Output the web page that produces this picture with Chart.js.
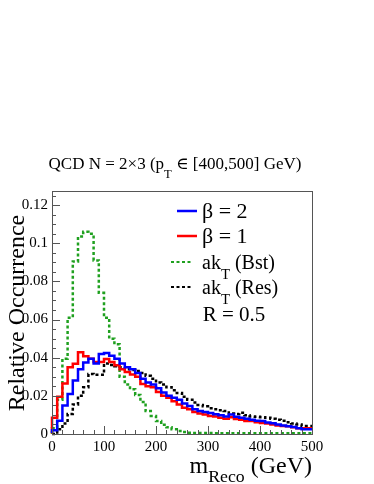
<!DOCTYPE html>
<html>
<head>
<meta charset="utf-8">
<script src="https://cdn.jsdelivr.net/npm/chart.js@4.4.1/dist/chart.umd.min.js"></script>
<style>
  html, body { margin: 0; padding: 0; background: #fff; }
</style>
</head>
<body>
<canvas id="c" width="374" height="484"></canvas>
<script>
// bin edges in GeV (10 GeV bins)
var binEdges = [0,10,20,30,40,50,60,70,80,90,100,110,120,130,140,150,160,170,180,190,200,
  210,220,230,240,250,260,270,280,290,300,310,320,330,340,350,360,370,380,390,400,
  410,420,430,440,450,460,470,480,490,500];

var beta2 = [0.0005,0.002,0.007,0.015,0.021,0.028,0.034,0.0375,0.0395,0.037,
  0.042,0.0425,0.041,0.0395,0.037,0.035,0.034,0.032,0.029,0.027,
  0.026,0.024,0.0217,0.020,0.019,0.018,0.016,0.0147,0.013,0.012,
  0.0115,0.011,0.0104,0.0098,0.0092,0.0102,0.009,0.0085,0.008,0.0075,
  0.007,0.0068,0.006,0.0057,0.005,0.0045,0.004,0.0037,0.003,0.0025];

var beta1 = [0.0003,0.0085,0.0195,0.0265,0.035,0.0368,0.0428,0.0408,0.0395,0.0378,
  0.0377,0.0393,0.0377,0.036,0.034,0.0325,0.0312,0.030,0.0262,0.025,
  0.0245,0.022,0.020,0.019,0.0172,0.0155,0.0138,0.013,0.0115,0.0108,
  0.0102,0.0095,0.0092,0.0085,0.008,0.0088,0.0078,0.0075,0.0068,0.0068,
  0.0062,0.0058,0.0055,0.005,0.0045,0.0042,0.004,0.0035,0.003,0.003];

var aktBst = [0,0.003,0.018,0.0395,0.061,0.0905,0.1035,0.106,0.105,0.091,
  0.074,0.061,0.050,0.047,0.030,0.026,0.0235,0.0205,0.0168,0.012,
  0.0095,0.0068,0.0048,0.0035,0.0025,0.0016,0.001,0.0007,0.0005,0.0005,
  0.0005,0.0005,0.0004,0.0004,0.0004,0.0004,0.0004,0.0004,0.0004,0.0004,
  0.0004,0.0004,0.0004,0.0004,0.0004,0.0004,0.0004,0.0004,0.0004,0.0004];

var aktRes = [0,0,0.0025,0.0055,0.0105,0.0155,0.020,0.0245,0.0315,0.031,
  0.031,0.037,0.0362,0.0355,0.035,0.034,0.0335,0.033,0.032,0.0305,
  0.029,0.027,0.026,0.0245,0.023,0.0215,0.0195,0.018,0.0165,0.0152,
  0.0145,0.0135,0.013,0.0125,0.012,0.0108,0.0105,0.0112,0.0098,0.0092,
  0.009,0.0088,0.0085,0.008,0.0075,0.007,0.0062,0.0055,0.005,0.0042];

var xTicks = [0,100,200,300,400,500];
var yTicks = [0,0.02,0.04,0.06,0.08,0.1,0.12];

var serif = "'Liberation Serif', 'DejaVu Serif', serif";

function histPoints(vals) {
  var pts = [];
  for (var i = 0; i < vals.length; i++) {
    pts.push({x: binEdges[i], y: vals[i]});
  }
  pts.push({x: binEdges[vals.length], y: vals[vals.length - 1]});
  return pts;
}

function series(label, vals, color, dash) {
  return {
    label: label,
    data: histPoints(vals),
    borderColor: color,
    borderWidth: 2.5,
    borderDash: dash,
    stepped: 'after',
    pointRadius: 0,
    fill: false,
    clip: 3
  };
}

// text with a lowered subscript: parts = [[text, isSub], ...]
function drawRich(ctx, parts, x, y, size, align, drop) {
  var total = 0, i, w = [];
  var subSize = size * 0.74;
  for (i = 0; i < parts.length; i++) {
    ctx.font = (parts[i][1] ? subSize : size) + 'px ' + serif;
    w.push(ctx.measureText(parts[i][0]).width);
    total += w[i];
  }
  var cx = align === 'right' ? x - total : (align === 'center' ? x - total / 2 : x);
  for (i = 0; i < parts.length; i++) {
    ctx.font = (parts[i][1] ? subSize : size) + 'px ' + serif;
    ctx.fillText(parts[i][0], cx, parts[i][1] ? y + size * (drop || 0.5) : y);
    cx += w[i];
  }
}

var rootDecor = {
  id: 'rootDecor',
  afterDraw: function(chart) {
    var ctx = chart.ctx, a = chart.chartArea;
    var xs = chart.scales.x, ys = chart.scales.y;
    ctx.save();

    // frame
    ctx.strokeStyle = '#555';
    ctx.lineWidth = 1;
    ctx.strokeRect(Math.round(a.left) + 0.5, Math.round(a.top) + 0.5,
      Math.round(a.right - a.left), Math.round(a.bottom - a.top));

    // ticks pointing inwards
    ctx.beginPath();
    var i, k, v, p;
    for (i = 0; i < yTicks.length; i++) {
      for (k = 0; k < 4; k++) {
        v = yTicks[i] + k * 0.005;
        if (v > ys.max) break;
        p = Math.round(ys.getPixelForValue(v)) + 0.5;
        ctx.moveTo(a.left, p);
        ctx.lineTo(a.left + (k === 0 ? 8 : 4), p);
      }
    }
    for (i = 0; i < xTicks.length; i++) {
      for (k = 0; k < 5; k++) {
        v = xTicks[i] + k * 20;
        if (v > xs.max) break;
        p = Math.round(xs.getPixelForValue(v)) + 0.5;
        ctx.moveTo(p, a.bottom);
        ctx.lineTo(p, a.bottom - (k === 0 ? 8 : 4));
      }
    }
    ctx.stroke();

    ctx.fillStyle = '#000';
    ctx.textBaseline = 'alphabetic';

    // title
    drawRich(ctx, [['QCD N = 2\u00d73 (p', false], ['T', true], [' \u2208 [400,500] GeV)', false]],
      175, 169, 17, 'center', 0.5);

    // axis titles
    drawRich(ctx, [['m', false], ['Reco', true], [' (GeV)', false]], a.right, 473, 24, 'right', 0.38);
    ctx.save();
    ctx.translate(24, 313);
    ctx.rotate(-Math.PI / 2);
    ctx.font = '24px ' + serif;
    ctx.textAlign = 'center';
    ctx.fillText('Relative Occurrence', 0, 0);
    ctx.restore();

    // legend
    var ds = chart.data.datasets;
    var rows = [
      {y: 211, size: 22, parts: [['\u03b2 = 2', false]]},
      {y: 236, size: 22, parts: [['\u03b2 = 1', false]]},
      {y: 262, size: 20, parts: [['ak', false], ['T', true], [' (Bst)', false]]},
      {y: 287, size: 20, parts: [['ak', false], ['T', true], [' (Res)', false]]}
    ];
    for (i = 0; i < rows.length; i++) {
      var d = ds[i];
      var dashed = d.borderDash.length > 0;
      ctx.save();
      ctx.strokeStyle = d.borderColor;
      ctx.lineWidth = dashed ? 2 : 2.5;
      ctx.setLineDash(d.borderDash);
      ctx.beginPath();
      var x0 = dashed ? 171 : 177;
      ctx.moveTo(x0, rows[i].y);
      ctx.lineTo(x0 + 20, rows[i].y);
      ctx.stroke();
      ctx.restore();
      drawRich(ctx, rows[i].parts, 202, rows[i].y + 7, rows[i].size, 'left', 0.5);
    }
    drawRich(ctx, [['R = 0.5', false]], 234, 321, 21, 'center');

    ctx.restore();
  }
};

new Chart(document.getElementById('c'), {
  type: 'line',
  data: {
    datasets: [
      series('\u03b2 = 2', beta2, '#0000ff', []),
      series('\u03b2 = 1', beta1, '#ff0000', []),
      series('akT (Bst)', aktBst, '#1fa01f', [3, 2.5]),
      series('akT (Res)', aktRes, '#000000', [3, 2.5])
    ]
  },
  options: {
    responsive: false,
    animation: false,
    devicePixelRatio: 1,
    layout: { padding: { top: 191, right: 62, left: 0, bottom: 0 } },
    plugins: { legend: { display: false }, tooltip: { enabled: false }, title: { display: false } },
    scales: {
      x: {
        type: 'linear', min: 0, max: 500,
        afterFit: function(s) { s.height = 50; },
        afterBuildTicks: function(s) { s.ticks = xTicks.map(function(v) { return {value: v}; }); },
        grid: { display: false, drawTicks: false },
        border: { display: false },
        ticks: { color: '#000', padding: 4, maxRotation: 0, font: { family: serif, size: 15 } }
      },
      y: {
        min: 0, max: 0.1274,
        afterFit: function(s) { s.width = 52; },
        afterBuildTicks: function(s) { s.ticks = yTicks.map(function(v) { return {value: v}; }); },
        grid: { display: false, drawTicks: false },
        border: { display: false },
        ticks: {
          color: '#000', padding: 4, font: { family: serif, size: 15 },
          callback: function(v) { return String(+v.toFixed(3)); }
        }
      }
    }
  },
  plugins: [rootDecor]
});
</script>
</body>
</html>
